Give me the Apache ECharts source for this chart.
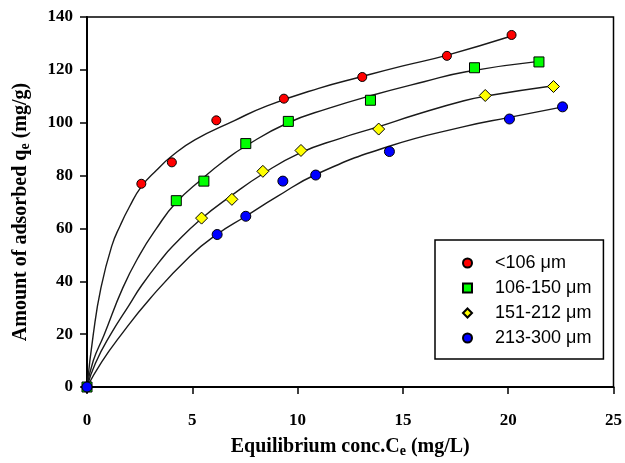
<!DOCTYPE html>
<html>
<head>
<meta charset="utf-8">
<script src="https://cdn.jsdelivr.net/npm/echarts@6/dist/echarts.min.js"></script>
<style>
  html, body { margin: 0; padding: 0; background: #fff; }
  #chart { width: 625px; height: 463px; }
</style>
</head>
<body>
<div id="chart"></div>
<script>
// measured points [Ce, qe]
var pts106 = [[0, 0], [2.58, 76.9], [4.03, 85.0], [6.14, 100.9], [9.35, 109.1], [13.07, 117.3], [17.09, 125.3], [20.16, 133.2]];
var pts150 = [[0, 0], [4.24, 70.5], [5.55, 77.9], [7.54, 92.1], [9.56, 100.5], [13.46, 108.5], [18.40, 120.8], [21.46, 123.0]];
var pts212 = [[0, 0], [5.44, 63.9], [6.88, 71.0], [8.35, 81.6], [10.16, 89.5], [13.85, 97.6], [18.91, 110.3], [22.15, 113.7]];
var pts300 = [[0, 0], [6.18, 57.7], [7.54, 64.6], [9.30, 77.9], [10.86, 80.2], [14.36, 89.1], [20.06, 101.4], [22.58, 106.0]];

// fitted curves
var fit106 = [[0, 0], [0.3, 20], [0.65, 37], [1.17, 53.2], [1.6, 61.5], [2.01, 68.1], [2.58, 75.8], [3.3, 82], [4.0, 87.2], [5.12, 93.5], [7.0, 100.8], [8.55, 106.4], [11, 113], [13.07, 117.5], [15, 121.5], [17.07, 125.5], [20.16, 132.8]];
var fit150 = [[0, 0], [0.3, 10], [0.8, 19.5], [1.7, 37.5], [2.5, 50], [3.3, 60], [4.2, 69.5], [5.5, 79], [6.5, 85.5], [7.5, 91], [9.5, 99.8], [11.5, 105.5], [13.5, 110.3], [16, 115.5], [18, 119.3], [21.46, 123.2]];
var fit212 = [[0, 0], [0.4, 9], [1.13, 20], [2.0, 31], [2.6, 38.5], [3.6, 49], [4.1, 53.5], [5.4, 63.5], [6.87, 72.5], [8.32, 80.5], [10.1, 88.5], [12, 94], [13.85, 98.5], [15.6, 103], [17.9, 108.3], [19.1, 110.3], [22.15, 114]];
var fit300 = [[0, 0], [0.7, 9.5], [1.5, 18.5], [3.0, 33.5], [4.89, 49.5], [6.18, 57.8], [7.54, 64.6], [9.02, 72], [10.89, 80.5], [14.35, 91.1], [17.9, 98.5], [20.05, 102], [22.6, 106]];

var names = ["<106 \u03bcm", "106-150 \u03bcm", "151-212 \u03bcm", "213-300 \u03bcm"];
var colors = ["#ff0000", "#00ff00", "#ffff00", "#0000ff"];
var symbols = ["circle", "rect", "diamond", "circle"];
var sizes = [9, 10, 12, 10];
var pointSets = [pts106, pts150, pts212, pts300];
var fitSets = [fit106, fit150, fit212, fit300];

var serif = "'Liberation Serif', 'Times New Roman', serif";
var sub = { fontSize: 14, fontWeight: "bold", fontFamily: serif, padding: [9, 0, 0, 0] };

var series = [];
fitSets.forEach(function (d, i) {
  series.push({
    name: "fit" + i,
    type: "line",
    data: d,
    smooth: 0.5,
    showSymbol: false,
    silent: true,
    lineStyle: { color: "#1a1a1a", width: 1.4 },
    z: 2
  });
});
pointSets.forEach(function (d, i) {
  series.push({
    name: names[i],
    type: "scatter",
    data: d,
    symbol: symbols[i],
    symbolSize: sizes[i],
    itemStyle: { color: colors[i], borderColor: "#000", borderWidth: 1, opacity: 1 },
    z: 3 + i
  });
});

var myChart = echarts.init(document.getElementById("chart"));
myChart.setOption({
  animation: false,
  grid: {
    left: 87,
    top: 17,
    width: 535,
    height: 376,
    show: true,
    borderColor: "#000",
    borderWidth: 1.5
  },
  legend: {
    data: names.map(function (n, i) {
      return { name: n, icon: symbols[i] };
    }),
    orient: "vertical",
    left: 435,
    top: 240,
    itemWidth: 9,
    itemHeight: 9,
    itemGap: 7,
    padding: [14, 12, 12, 27],
    borderColor: "#000",
    borderWidth: 1.5,
    backgroundColor: "#fff",
    textStyle: {
      fontFamily: "'Liberation Sans', Arial, sans-serif",
      fontSize: 18,
      color: "#000",
      lineHeight: 17,
      padding: [0, 0, 0, 18]
    }
  },
  xAxis: {
    type: "value",
    min: 0,
    max: 25,
    interval: 5,
    name: "Equilibrium conc.C{sub|e} (mg/L)",
    nameLocation: "middle",
    nameGap: 48,
    nameTextStyle: { fontFamily: serif, fontWeight: "bold", fontSize: 20, color: "#000", rich: { sub: sub } },
    axisLine: { lineStyle: { color: "#000", width: 2 } },
    axisTick: { inside: false, length: 7, lineStyle: { color: "#000", width: 1.5 } },
    axisLabel: { margin: 25, fontFamily: serif, fontWeight: "bold", fontSize: 17, color: "#000" },
    splitLine: { show: false }
  },
  yAxis: {
    type: "value",
    min: 0,
    max: 140,
    interval: 20,
    name: "Amount of adsorbed q{sub|e} (mg/g)",
    nameLocation: "middle",
    nameGap: 55,
    nameTextStyle: { fontFamily: serif, fontWeight: "bold", fontSize: 20, color: "#000", padding: [0, 20, 0, 0], rich: { sub: sub } },
    axisLine: { lineStyle: { color: "#000", width: 2 } },
    axisTick: { inside: false, length: 7, lineStyle: { color: "#000", width: 1.5 } },
    axisLabel: { margin: 14, fontFamily: serif, fontWeight: "bold", fontSize: 17, color: "#000" },
    splitLine: { show: false }
  },
  series: series
});
</script>
</body>
</html>
